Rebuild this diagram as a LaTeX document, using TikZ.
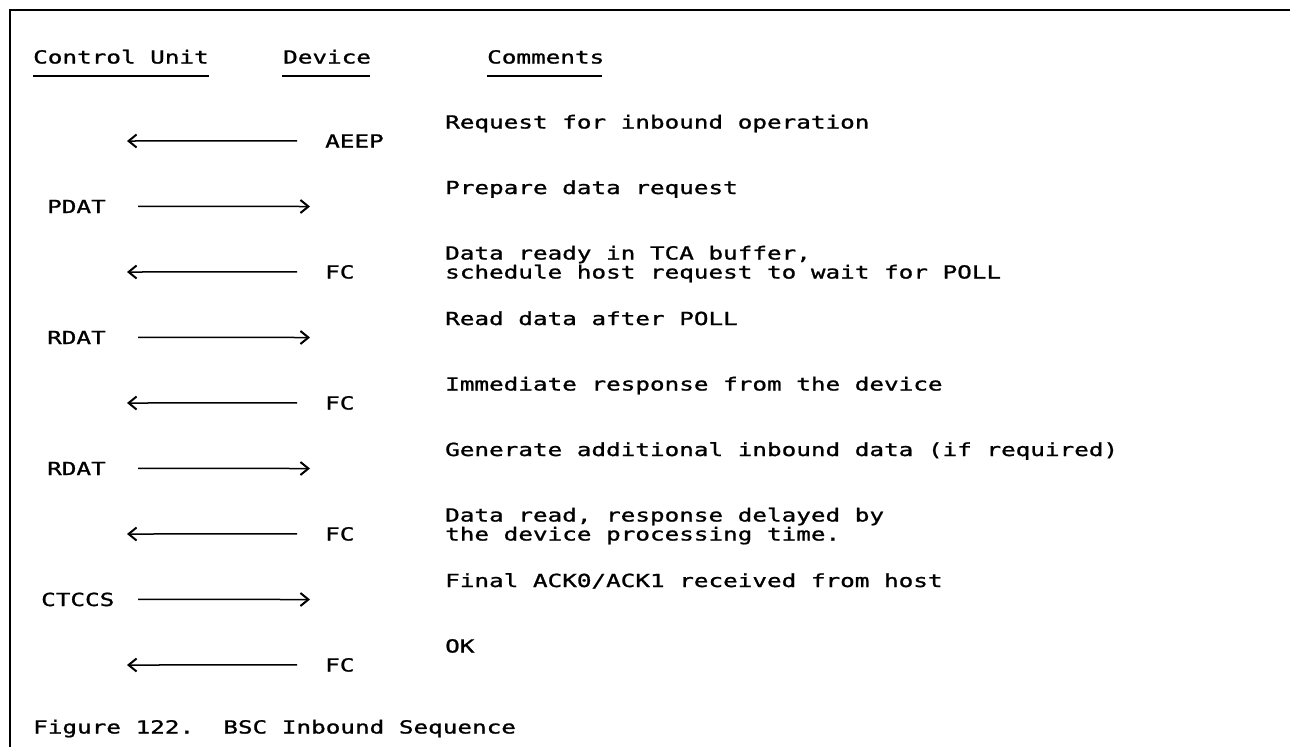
\documentclass[tikz,border=0pt]{standalone}
\usepackage{fontspec}
\setmonofont{DejaVu Sans Mono}[FakeStretch=1.35,FakeBold=1.2]
\usetikzlibrary{arrows.meta}
\tikzset{
  txt/.style={anchor=base west, inner sep=0pt, font=\ttfamily\fontsize{18}{19}\selectfont},
  msg/.style={line width=1.5pt, -{Straight Barb[length=8pt,width=13pt,line width=2pt]}},
  uline/.style={line width=1.8pt},
  frame/.style={line width=2pt}
}
\begin{document}
\begin{tikzpicture}[x=1pt,y=-1pt]
\useasboundingbox (0,0) rectangle (1290,747);
% frame
\coordinate (fL) at (10,747);
\coordinate (fC) at (10,10);
\coordinate (fR) at (1290,10);
\draw[frame] (fL) -- (fC) -- (fR);
% headers
\node[txt] (hcu) at (33,63.5) {Control Unit};
\node[txt] (hdev) at (283,63.5) {Device};
\node[txt] (hcom) at (487,63.5) {Comments};
\coordinate (u1a) at (33,76); \coordinate (u1b) at (209,76);
\coordinate (u2a) at (282,76); \coordinate (u2b) at (370,76);
\coordinate (u3a) at (487,76); \coordinate (u3b) at (602,76);
\draw[uline] (u1a) -- (u1b);
\draw[uline] (u2a) -- (u2b);
\draw[uline] (u3a) -- (u3b);
% comments
\node[txt] (c0) at (445,128.5) {Request for inbound operation};
\node[txt] (c1) at (445,194) {Prepare data request};
\node[txt] (c2) at (445,259.5) {Data ready in TCA buffer,};
\node[txt] (c2b) at (445,278.5) {schedule host request to wait for POLL};
\node[txt] (c3) at (445,325) {Read data after POLL};
\node[txt] (c4) at (445,390.5) {Immediate response from the device};
\node[txt] (c5) at (445,456) {Generate additional inbound data (if required)};
\node[txt] (c6) at (445,521.5) {Data read, response delayed by};
\node[txt] (c6b) at (445,540.5) {the device processing time.};
\node[txt] (c7) at (445,587) {Final ACK0/ACK1 received from host};
\node[txt] (c8) at (445,652.5) {OK};
% device labels (left arrows)
\node[txt] (d0) at (325,147.5) {AEEP};
\node[txt] (d2) at (325,278.5) {FC};
\node[txt] (d4) at (325,409.5) {FC};
\node[txt] (d6) at (325,540.5) {FC};
\node[txt] (d8) at (325,671.5) {FC};
\coordinate (t0) at (127,141);
\coordinate (t2) at (127,272);
\coordinate (t4) at (127,403);
\coordinate (t6) at (127,534);
\coordinate (t8) at (127,665);
\draw[msg] ([xshift=-28pt]d0.west) -- (t0);
\draw[msg] ([xshift=-28pt]d2.west) -- (t2);
\draw[msg] ([xshift=-28pt]d4.west) -- (t4);
\draw[msg] ([xshift=-28pt]d6.west) -- (t6);
\draw[msg] ([xshift=-28pt]d8.west) -- (t8);
% control unit labels (right arrows)
\node[txt] (u1) at (47,213) {PDAT};
\node[txt] (u3) at (47,344) {RDAT};
\node[txt] (u5) at (47,475) {RDAT};
\node[txt] (u7) at (41,606) {CTCCS};
\coordinate (t1) at (310,206.5);
\coordinate (t3) at (310,337.5);
\coordinate (t5) at (310,468.5);
\coordinate (t7) at (310,599.5);
\draw[msg] ([xshift=91pt]u1.west) -- (t1);
\draw[msg] ([xshift=91pt]u3.west) -- (t3);
\draw[msg] ([xshift=91pt]u5.west) -- (t5);
\draw[msg] ([xshift=97pt]u7.west) -- (t7);
% caption
\node[txt] (cap) at (33,733.5) {Figure 122.\ \ BSC Inbound Sequence};
\end{tikzpicture}
\end{document}
